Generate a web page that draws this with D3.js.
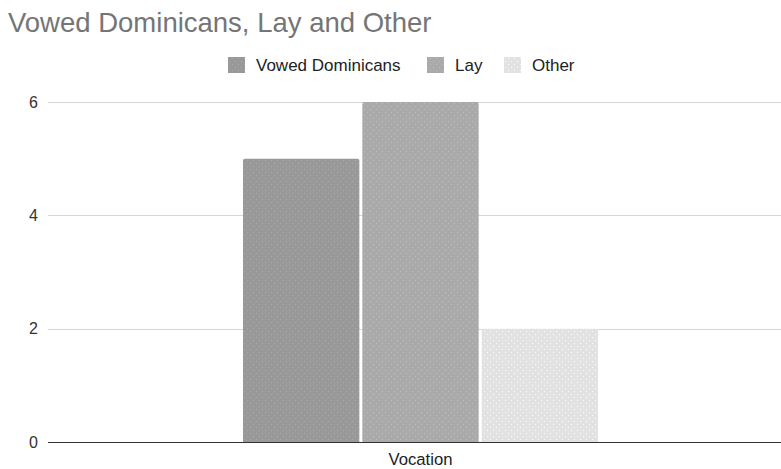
<!DOCTYPE html>
<html>
<head>
<meta charset="utf-8">
<script src="https://cdn.jsdelivr.net/npm/d3@7"></script>
<style>
  html, body { margin: 0; padding: 0; background: #fff; }
  svg { display: block; font-family: "Liberation Sans", Arial, sans-serif; }
  svg text { font-family: "Liberation Sans", Arial, sans-serif; }
</style>
</head>
<body>
<svg id="chart" width="781" height="469"></svg>
<script>
// Chart data
const categories = ["Vocation"];
const seriesNames = ["Vowed Dominicans", "Lay", "Other"];
const seriesValues = [[5], [6], [2]];   // one value per category, per series
const yTicks = [0, 2, 4, 6];
const seriesColors = ["#999999", "#aaaaaa", "#e2e2e2"];
const chartTitle = "Vowed Dominicans, Lay and Other";

const W = 781, H = 469;
const plot = { left: 48, right: 781, top: 102, bottom: 442 };

const svg = d3.select("#chart");

// Dotted fill patterns for each series
const defs = svg.append("defs");
seriesColors.forEach((c, i) => {
  const p = defs.append("pattern")
    .attr("id", "pat" + i)
    .attr("width", 6).attr("height", 6)
    .attr("patternUnits", "userSpaceOnUse");
  p.append("rect").attr("width", 6).attr("height", 6).attr("fill", c);
  const light = d3.color(c).brighter(0.3);
  p.append("rect").attr("x", 1).attr("y", 1).attr("width", 1).attr("height", 1).attr("fill", light);
  p.append("rect").attr("x", 4).attr("y", 4).attr("width", 1).attr("height", 1).attr("fill", light);
});

const y = d3.scaleLinear().domain([0, 6]).range([plot.bottom, plot.top]);

const x0 = d3.scaleBand()
  .domain(categories)
  .range([60, plot.right])
  .paddingInner(0)
  .paddingOuter(0.5155);

const x1 = d3.scaleBand()
  .domain(seriesNames)
  .range([0, x0.bandwidth()])
  .paddingInner(0.025);

// Title
svg.append("text")
  .attr("x", 8).attr("y", 32)
  .attr("font-size", 27.5)
  .attr("fill", "#757575")
  .text(chartTitle);

// Gridlines
svg.append("g")
  .selectAll("line")
  .data(yTicks.filter(t => t !== 0))
  .join("line")
  .attr("x1", plot.left).attr("x2", plot.right)
  .attr("y1", d => Math.round(y(d)) + 0.5).attr("y2", d => Math.round(y(d)) + 0.5)
  .attr("stroke", "#d6d6d6").attr("stroke-width", 1);

// Y axis labels
const yAxis = d3.axisLeft(y).tickValues(yTicks).tickSize(0).tickPadding(0).tickFormat(d3.format("d"));
const yg = svg.append("g").attr("transform", `translate(38,0)`).call(yAxis);
yg.select(".domain").remove();
yg.attr("font-family", null).attr("font-size", null);
yg.selectAll("text").attr("font-size", 16).attr("fill", "#333");

// Bars
const groups = svg.append("g")
  .selectAll("g")
  .data(categories)
  .join("g")
  .attr("transform", d => `translate(${x0(d)},0)`);

groups.selectAll("path")
  .data((d, ci) => seriesNames.map((s, si) => ({ s, si, v: seriesValues[si][ci] })))
  .join("path")
  .attr("d", d => {
    const bx = x1(d.s), bw = x1.bandwidth();
    const top = y(d.v), bot = y(0), r = 2;
    return `M${bx},${bot} V${top + r} Q${bx},${top} ${bx + r},${top} H${bx + bw - r} Q${bx + bw},${top} ${bx + bw},${top + r} V${bot} Z`;
  })
  .attr("fill", d => `url(#pat${d.si})`);

// Baseline
svg.append("line")
  .attr("x1", plot.left).attr("x2", plot.right)
  .attr("y1", plot.bottom + 0.5).attr("y2", plot.bottom + 0.5)
  .attr("stroke", "#333").attr("stroke-width", 1);

// X axis label
const xAxis = d3.axisBottom(x0).tickSize(0).tickPadding(0);
const xg = svg.append("g").attr("transform", `translate(0,${plot.bottom + 11})`).call(xAxis);
xg.select(".domain").remove();
xg.attr("font-family", null).attr("font-size", null);
xg.selectAll("text").attr("font-size", 16.7).attr("fill", "#222").attr("dy", "0.71em");

// Legend
const legendX = [228, 427, 504];
const legend = svg.append("g");
seriesNames.forEach((s, i) => {
  legend.append("rect")
    .attr("x", legendX[i]).attr("y", 57)
    .attr("width", 17).attr("height", 16)
    .attr("fill", `url(#pat${i})`);
  legend.append("text")
    .attr("x", legendX[i] + 28).attr("y", 71)
    .attr("font-size", 17)
    .attr("fill", "#222")
    .text(s);
});
</script>
</body>
</html>
